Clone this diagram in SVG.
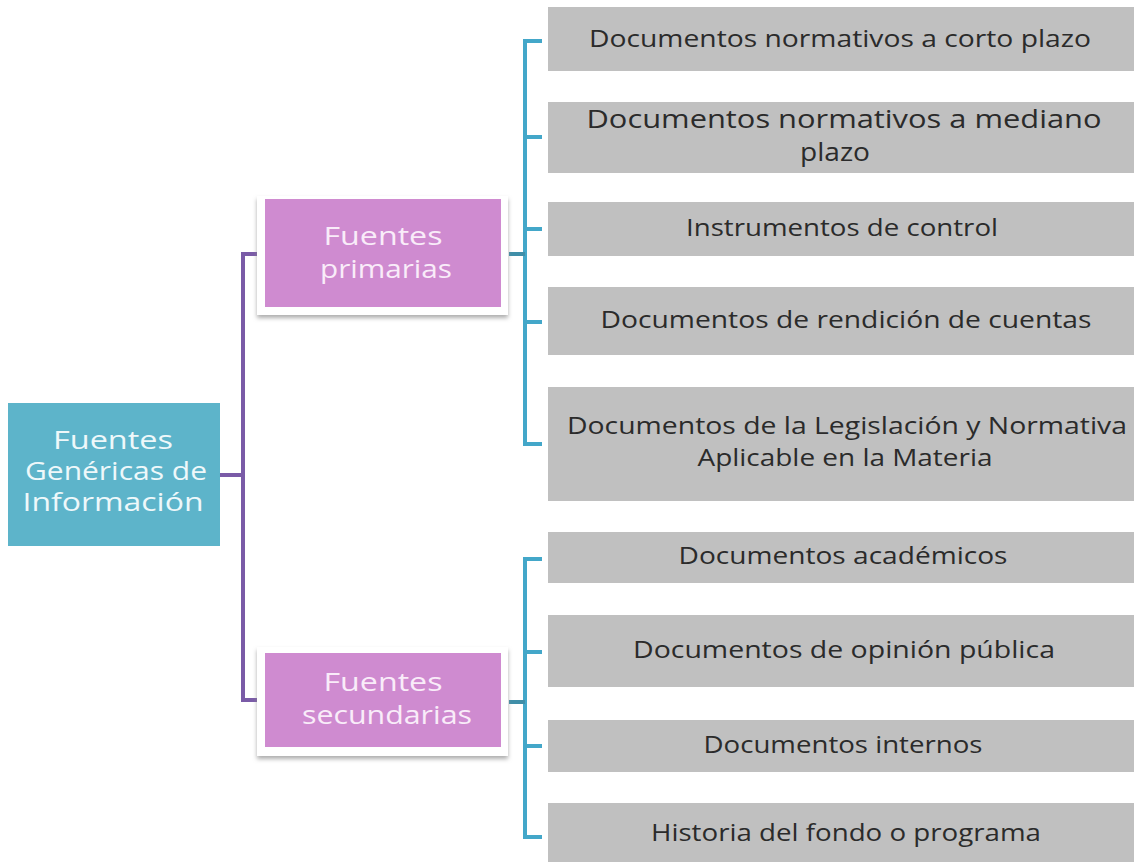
<svg xmlns="http://www.w3.org/2000/svg" width="1137" height="867" viewBox="0 0 1137 867">
<defs>
<filter id="sh" x="-10%" y="-10%" width="120%" height="130%">
<feDropShadow dx="0" dy="3" stdDeviation="2" flood-color="#8a8a8a" flood-opacity="0.7"/>
</filter>
</defs>
<style>
.gray{fill:#c0c0c0}
.gt{font-family:"Open Sans","Noto Sans","Liberation Sans",sans-serif;font-size:23px;fill:#2b2b2b;text-anchor:middle}
.pink{fill:#cf8bd0}
.frame{fill:#ffffff;filter:url(#sh)}
.pt{font-family:"Open Sans","Noto Sans","Liberation Sans",sans-serif;font-size:25px;fill:#f9ecf9;text-anchor:middle}
.tt{font-family:"Open Sans","Noto Sans","Liberation Sans",sans-serif;font-size:25px;fill:#eef8fa;text-anchor:middle}
.pl{fill:none;stroke:#7a5ba7;stroke-width:4}
.tl{fill:none;stroke:#43a7c9;stroke-width:4}
.dl{fill:none;stroke:#3f8ea8;stroke-width:4}
</style>
<g id="connectors">
<path class="pl" d="M257,254 H243 V700 H257"/>
<path class="pl" d="M220,475 H243"/>
<path class="tl" d="M542,41 H525 V444 H542 M525,137 H542 M525,229 H542 M525,322 H542"/>
<path class="dl" d="M509,254 H525"/>
<path class="tl" d="M542,559 H525 V837 H542 M525,652 H542 M525,746 H542"/>
<path class="dl" d="M509,702 H525"/>
</g>
<g id="root">
<rect x="8" y="403" width="212" height="143" fill="#5db4ca"/>
<text class="tt" x="113" y="449" textLength="120" lengthAdjust="spacingAndGlyphs">Fuentes</text>
<text class="tt" x="116" y="480" textLength="182" lengthAdjust="spacingAndGlyphs">Genéricas de</text>
<text class="tt" x="113" y="511" textLength="181" lengthAdjust="spacingAndGlyphs">Información</text>
</g>
<g id="primarias">
<rect class="frame" x="257" y="196" width="251" height="119"/>
<rect class="pink" x="265" y="199" width="236" height="108"/>
<text class="pt" x="383" y="245" textLength="119" lengthAdjust="spacingAndGlyphs">Fuentes</text>
<text class="pt" x="386" y="278" textLength="132" lengthAdjust="spacingAndGlyphs">primarias</text>
</g>
<g id="secundarias">
<rect class="frame" x="257" y="647" width="251" height="109"/>
<rect class="pink" x="265" y="653" width="236" height="94"/>
<text class="pt" x="383" y="691" textLength="119" lengthAdjust="spacingAndGlyphs">Fuentes</text>
<text class="pt" x="387" y="724" textLength="170" lengthAdjust="spacingAndGlyphs">secundarias</text>
</g>
<g id="n1">
<rect class="gray" x="548" y="7" width="586" height="64"/>
<text class="gt" x="840" y="47" textLength="502" lengthAdjust="spacingAndGlyphs">Documentos normativos a corto plazo</text>
</g>
<g id="n2">
<rect class="gray" x="548" y="102" width="586" height="71"/>
<text class="gt" x="844" y="128" style="font-size:25px" textLength="515" lengthAdjust="spacingAndGlyphs">Documentos normativos a mediano</text>
<text class="gt" x="835" y="161" style="font-size:25px" textLength="70" lengthAdjust="spacingAndGlyphs">plazo</text>
</g>
<g id="n3">
<rect class="gray" x="548" y="202" width="586" height="54"/>
<text class="gt" x="842" y="236" textLength="312" lengthAdjust="spacingAndGlyphs">Instrumentos de control</text>
</g>
<g id="n4">
<rect class="gray" x="548" y="287" width="586" height="68"/>
<text class="gt" x="846" y="328" textLength="491" lengthAdjust="spacingAndGlyphs">Documentos  de rendición de cuentas</text>
</g>
<g id="n5">
<rect class="gray" x="548" y="387" width="586" height="114"/>
<text class="gt" x="847" y="434" textLength="560" lengthAdjust="spacingAndGlyphs">Documentos  de la Legislación y Normativa</text>
<text class="gt" x="845" y="466" textLength="295" lengthAdjust="spacingAndGlyphs">Aplicable en la Materia</text>
</g>
<g id="n6">
<rect class="gray" x="548" y="532" width="586" height="51"/>
<text class="gt" x="843" y="564" textLength="329" lengthAdjust="spacingAndGlyphs">Documentos  académicos</text>
</g>
<g id="n7">
<rect class="gray" x="548" y="615" width="586" height="72"/>
<text class="gt" x="844" y="658" textLength="422" lengthAdjust="spacingAndGlyphs">Documentos  de opinión pública</text>
</g>
<g id="n8">
<rect class="gray" x="548" y="720" width="586" height="52"/>
<text class="gt" x="843" y="753" textLength="279" lengthAdjust="spacingAndGlyphs">Documentos  internos</text>
</g>
<g id="n9">
<rect class="gray" x="548" y="803" width="586" height="59"/>
<text class="gt" x="846" y="841" textLength="390" lengthAdjust="spacingAndGlyphs">Historia del fondo o programa</text>
</g>
</svg>
